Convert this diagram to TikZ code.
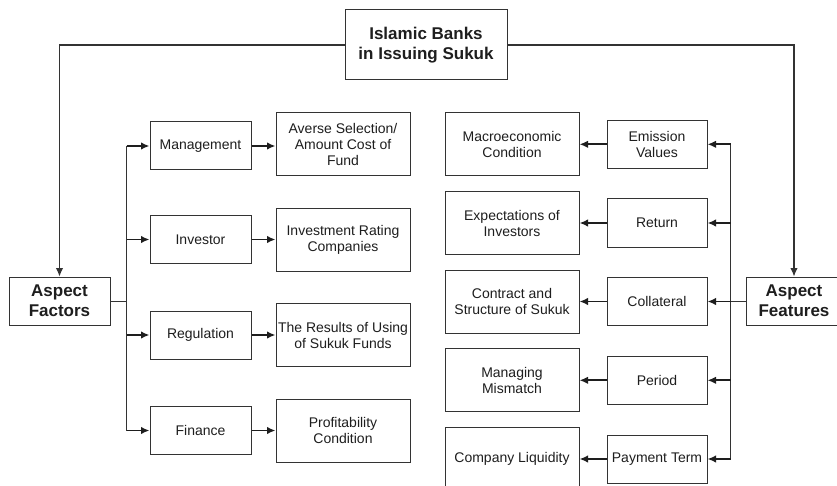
\documentclass[tikz,border=0pt]{standalone}
\usepackage{fontspec}
\setmainfont{Liberation Sans}
\usetikzlibrary{arrows.meta,calc}
\definecolor{ink}{HTML}{1E1E1E}
\definecolor{edge}{HTML}{333333}
\tikzset{
  box/.style={draw=edge, line width=1pt, fill=white, align=center, inner sep=1pt,
    text=ink, font=\fontsize{14}{16}\selectfont},
  boxA/.style={box, minimum width=101pt, minimum height=48pt},
  boxB/.style={box, minimum width=134pt, minimum height=63pt},
  boxC/.style={box, minimum width=100pt, minimum height=48pt},
  headbox/.style={box, font=\fontsize{17}{20}\selectfont\bfseries},
  arr/.style={draw=ink, line width=1.7pt, -{Latex[length=8.5pt,width=7.5pt]}},
  thinline/.style={draw=edge, line width=1pt},
  toparr/.style={draw=edge, line width=1.1pt, -{Latex[length=8.5pt,width=7.5pt]}},
}
\begin{document}
\begin{tikzpicture}[x=1pt,y=-1pt]
\useasboundingbox[fill=white] (0,0) rectangle (837,486);

% headings
\node[headbox, minimum width=162pt, minimum height=70pt] (title) at (426,45) {Islamic Banks\\in Issuing Sukuk};
\node[headbox, minimum width=101pt, minimum height=48pt] (af) at (59.5,301) {Aspect\\Factors};
\node[headbox, minimum width=96pt, minimum height=48pt] (afe) at (794,301) {Aspect\\Features};

% left side
\node[boxA] (mgmt) at (200.5,146) {Management};
\node[boxA] (inv)  at (200.5,239.5) {Investor};
\node[boxA] (reg)  at (200.5,335) {Regulation};
\node[boxA] (fin)  at (200.5,430.5) {Finance};

\node[boxB] (avr)  at (343,144.2) {Averse Selection/\\Amount Cost of\\Fund};
\node[boxB] (irc)  at (343,240) {Investment Rating\\Companies};
\node[boxB] (res)  at (343,335.2) {The Results of Using\\of Sukuk Funds};
\node[boxB] (prof) at (343,430.7) {Profitability\\Condition};

% right side
\node[boxC] (emi) at (657,144.3) {Emission\\Values};
\node[boxC] (ret) at (657,223) {Return};
\node[boxC] (col) at (657,301.5) {Collateral};
\node[boxC] (per) at (657,380.3) {Period};
\node[boxC] (pay) at (657,459) {Payment Term};

\node[boxB] (mac) at (512,144.2) {Macroeconomic\\Condition};
\node[boxB] (exp) at (512,223) {Expectations of\\Investors};
\node[boxB] (con) at (512,301.7) {Contract and\\Structure of Sukuk};
\node[boxB] (man) at (512,380.2) {Managing\\Mismatch};
\node[boxB] (liq) at (512,458.7) {Company Liquidity};

% top connectors
\draw[toparr] (title.west) -| (af.north);
\draw[toparr] (title.east) -| (afe.north);

% left bus
\coordinate (lb) at ($(af.east)+(16,0)$);
\draw[thinline] (af.east) -- (lb);
\draw[thinline] (lb |- mgmt.west) -- (lb |- fin.west);
\foreach \n in {mgmt,inv,reg,fin}{
  \draw[arr] (lb |- \n.west) -- (\n.west);
}
\draw[arr] (mgmt.east) -- (mgmt.east -| avr.west);
\draw[arr] (inv.east) -- (inv.east -| irc.west);
\draw[arr] (reg.east) -- (reg.east -| res.west);
\draw[arr] (fin.east) -- (fin.east -| prof.west);

% right bus
\coordinate (rb) at ($(afe.west)+(-14.7,0)$);
\draw[thinline] (afe.west) -- (rb);
\draw[thinline] (rb |- emi.east) -- (rb |- pay.east);
\foreach \n in {emi,ret,col,per,pay}{
  \draw[arr] (rb |- \n.east) -- (\n.east);
}
\draw[arr] (emi.west) -- (emi.west -| mac.east);
\draw[arr] (ret.west) -- (ret.west -| exp.east);
\draw[arr] (col.west) -- (col.west -| con.east);
\draw[arr] (per.west) -- (per.west -| man.east);
\draw[arr] (pay.west) -- (pay.west -| liq.east);
\end{tikzpicture}
\end{document}
